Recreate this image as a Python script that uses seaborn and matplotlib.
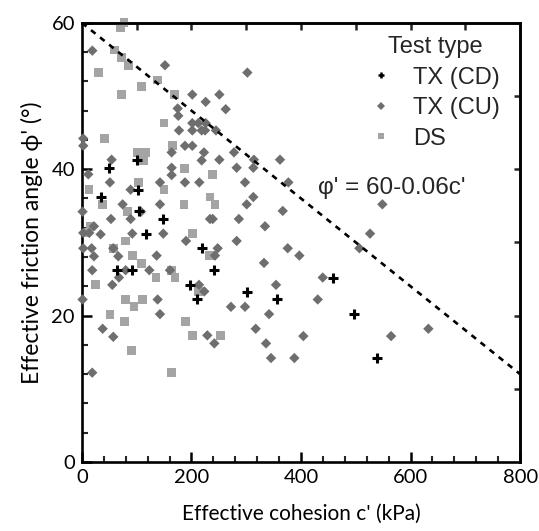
import matplotlib
matplotlib.use("Agg")
import matplotlib.pyplot as plt
import seaborn as sns
import pandas as pd
import numpy as np
from matplotlib.lines import Line2D

# ---------------- data ----------------
cd_c = [99.9, 49.3, 102.9, 34.1, 104.7, 147.4, 116.3, 218.6, 63.4, 90.8, 241.7,
        197.3, 210.6, 302.0, 355.6, 459.0, 497.4, 538.3]
cd_phi = [41.2, 40.2, 37.2, 36.2, 34.3, 33.2, 31.2, 29.2, 26.2, 26.2, 26.2,
          24.2, 22.2, 23.2, 22.2, 25.2, 20.2, 14.2]

cu_c = [19.0, 151.6, 302.0, 201.5, 250.9, 225.9, 174.8, 262.5, 175.9, 201.5, 212.4,
        225.9, 177.2, 201.5, 218.6, 224.7, 244.7, 2.4, 2.4, 188.1, 201.5, 277.6,
        163.8, 222.8, 54.2, 218.6, 250.9, 314.0, 361.6, 163.8, 282.5, 312.9, 11.6,
        163.8, 51.1, 142.5, 188.1, 214.3, 297.7, 376.9, 88.9, 312.9, 74.3, 142.5,
        300.8, 548.5, 1.2, 107.8, 366.6, 53.0, 88.9, 233.8, 238.7, 286.5, 21.9,
        334.2, 13.4, 2.4, 34.1, 91.9, 148.5, 526.0, 190.0, 282.5, 2.4, 17.7, 57.2,
        247.8, 375.7, 506.5, 21.9, 66.3, 136.4, 242.9, 396.9, 332.4, 18.8, 79.8,
        123.0, 160.7, 67.6, 439.6, 55.4, 213.7, 354.3, 223.4, 1.2, 138.2, 430.5,
        272.1, 297.7, 142.5, 341.6, 37.8, 317.3, 632.5, 57.2, 228.9, 404.2, 564.4,
        241.7, 336.1, 345.2, 387.8, 18.8]
cu_phi = [56.2, 54.2, 53.2, 50.2, 50.2, 49.2, 48.3, 48.2, 47.3, 46.3, 46.3,
          46.3, 45.3, 45.3, 45.3, 45.3, 45.3, 44.2, 43.2, 43.2, 43.2, 42.3,
          42.3, 42.3, 41.3, 41.2, 41.3, 41.3, 41.3, 40.2, 40.2, 40.2, 39.3,
          39.2, 38.2, 38.2, 38.2, 38.2, 38.2, 38.2, 37.2, 36.2, 35.2, 35.2,
          35.2, 35.2, 34.2, 34.2, 34.3, 33.2, 33.2, 33.2, 33.2, 33.2, 32.2,
          32.2, 31.3, 31.3, 31.1, 31.2, 31.2, 31.2, 30.2, 30.2, 29.2, 29.2, 29.2,
          29.2, 29.2, 29.2, 28.1, 28.1, 28.2, 28.2, 28.2, 27.2, 26.2, 26.2,
          26.2, 26.2, 25.2, 25.2, 24.2, 24.2, 24.2, 23.3, 22.2, 22.2, 22.2,
          21.2, 21.2, 20.2, 20.2, 18.2, 18.2, 18.2, 17.1, 17.3, 17.2, 17.2,
          16.2, 16.2, 14.2, 14.2, 12.2]

ds_c = [77.0, 70.0, 59.7, 72.5, 84.6, 29.8, 137.6, 108.3, 72.5, 168.6, 149.8,
        40.8, 165.6, 101.0, 116.3, 112.0, 186.9, 238.0, 12.8, 102.9, 149.8, 37.1,
        233.8, 242.9, 186.3, 83.4, 14.6, 7.3, 201.5, 79.8, 57.2, 92.6, 232.5,
        109.0, 163.8, 135.2, 169.9, 25.0, 212.4, 79.8, 110.2, 95.0, 51.1, 77.3,
        189.4, 201.5, 253.3, 90.8, 164.0]
ds_phi = [60.0, 59.3, 56.3, 55.3, 54.2, 53.2, 52.2, 51.3, 50.2, 50.2, 46.3,
          44.2, 43.2, 42.3, 42.3, 41.2, 40.1, 39.3, 37.2, 38.2, 37.2, 35.2,
          36.2, 35.2, 35.2, 34.2, 32.2, 31.3, 31.2, 30.2, 29.2, 28.2, 28.2,
          27.1, 26.2, 25.2, 25.2, 24.2, 23.3, 22.2, 22.2, 21.2, 20.2, 19.2,
          19.2, 17.3, 17.3, 15.2, 12.2]

types = ["TX (CD)", "TX (CU)", "DS"]
line_c = [0, 800]
line_phi = [60 - 0.06 * c for c in line_c]

# ---------------- figure ----------------
sns.set_theme(style="white")
plt.rcParams["font.family"] = ["Lato", "DejaVu Sans"]

fig = plt.figure(figsize=(5.39, 5.31), dpi=100)
ax = fig.add_axes([0.152, 0.130, 0.813, 0.827])

df_cd = pd.DataFrame({"c": cd_c, "phi": cd_phi})
df_cu = pd.DataFrame({"c": cu_c, "phi": cu_phi})
df_ds = pd.DataFrame({"c": ds_c, "phi": ds_phi})

sq_col = "#a4a4a4"
di_col = "#6e6e6e"

sns.scatterplot(data=df_ds, x="c", y="phi", marker="s", s=40, color=sq_col,
                edgecolor="none", ax=ax, zorder=2, clip_on=False)
sns.scatterplot(data=df_cu, x="c", y="phi", marker="D", s=28, color=di_col,
                edgecolor="none", ax=ax, zorder=3, clip_on=False)
sns.scatterplot(data=df_cd, x="c", y="phi", marker="+", s=55, color="black",
                linewidth=2.2, ax=ax, zorder=4)

sns.lineplot(x=line_c, y=line_phi, color="black", linestyle=(0, (2.2, 2.2)),
             linewidth=1.9, ax=ax, zorder=5)

ax.set_xlim(0, 800)
ax.set_ylim(0, 60)
ax.set_xticks([0, 200, 400, 600, 800])
ax.set_xticks(np.arange(0, 801, 40), minor=True)
ax.set_yticks([0, 20, 40, 60])
ax.set_yticks(np.arange(0, 61, 4), minor=True)
ax.tick_params(axis="both", which="major", direction="in", length=7, width=1.8,
               labelsize=14.5, pad=5, colors="black", bottom=True, left=True)
ax.tick_params(axis="both", which="minor", direction="in", length=4, width=1.5,
               bottom=True, left=True)
for sp in ax.spines.values():
    sp.set_linewidth(1.9)
    sp.set_color("black")

topax = ax.secondary_xaxis("top")
topax.set_xticks(np.arange(100, 800, 100))
topax.tick_params(direction="in", length=5, width=1.8, labeltop=False)
topax.spines["top"].set_linewidth(1.9)
rightax = ax.secondary_yaxis("right")
rightax.set_yticks(np.arange(10, 60, 10))
rightax.tick_params(direction="in", length=4, width=1.8, labelright=False)
rightax.spines["right"].set_linewidth(1.9)

ax.set_xlabel("Effective cohesion c' (kPa)", fontsize=15, labelpad=13, color="black")
ax.set_ylabel("Effective friction angle ϕ' (°)", fontsize=16.5, labelpad=6, color="black")

ax.text(431, 37.4, "φ' = 60-0.06c'", fontsize=17.5, family=["Liberation Sans", "DejaVu Sans"],
        ha="left", va="center", zorder=6)

handles = [
    Line2D([], [], marker="+", linestyle="none", color="black", markersize=5, markeredgewidth=1.8),
    Line2D([], [], marker="D", linestyle="none", color=di_col, markersize=4, markeredgewidth=0),
    Line2D([], [], marker="s", linestyle="none", color=sq_col, markersize=5, markeredgewidth=0),
]
leg = ax.legend(handles, types, title="Test type", loc="upper right",
                bbox_to_anchor=(0.995, 1.01), frameon=False,
                prop={"family": "Liberation Sans", "size": 17},
                title_fontproperties={"family": "Liberation Sans", "size": 17},
                handletextpad=0.85, labelspacing=0.36, handlelength=1.0,
                borderaxespad=0.35)

fig.savefig("out.png", dpi=100)
